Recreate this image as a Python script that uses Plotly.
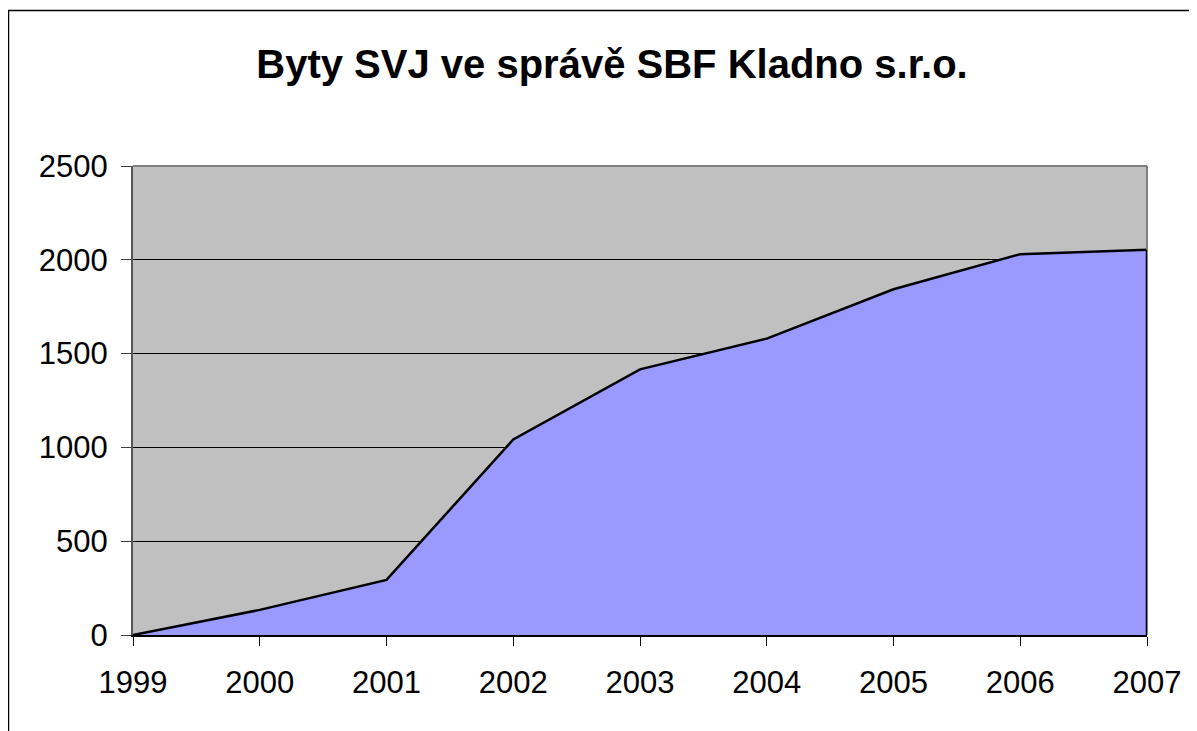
import plotly.graph_objects as go

years = [1999, 2000, 2001, 2002, 2003, 2004, 2005, 2006, 2007]
byty = [0, 134, 294, 1042, 1416, 1580, 1843, 2030, 2053]
y_ticks = [0, 500, 1000, 1500, 2000, 2500]
title_text = "Byty SVJ ve správě SBF Kladno s.r.o."

FONT = "Liberation Sans, Arial, sans-serif"

# page offset of the figure (body margin)
OFF = 8
PL, PR, PT, PB = 133, 1147, 166, 635  # plot area in page pixels
W, H = 1197, 731

fig = go.Figure()
fig.add_trace(go.Scatter(
    x=years, y=byty, mode="lines", fill="tozeroy",
    fillcolor="#9999FF", line=dict(color="black", width=2.5),
    hoverinfo="x+y", showlegend=False,
))

fig.update_layout(
    width=W, height=H,
    margin=dict(l=PL - OFF, r=W - (PR - OFF), t=PT - OFF, b=H - (PB - OFF)),
    paper_bgcolor="white", plot_bgcolor="#C0C0C0",
    title=dict(text="<b>" + title_text + "</b>", x=(612 - OFF) / W, xanchor="center",
               y=1 - (64 - OFF) / H, yanchor="middle",
               font=dict(family=FONT, size=40, color="black")),
    font=dict(family=FONT, size=31, color="black"),
    xaxis=dict(range=[years[0], years[-1]], tickmode="array", tickvals=years,
               ticktext=[str(y) for y in years], ticks="outside", ticklen=9,
               tickcolor="black", tickwidth=1, showgrid=False, zeroline=False,
               showline=True, linecolor="black", linewidth=2,
               ticklabelstandoff=10,
               tickfont=dict(family=FONT, size=31, color="black")),
    yaxis=dict(range=[0, 2500], tickmode="array", tickvals=y_ticks,
               ticks="outside", ticklen=10, tickcolor="#404040", tickwidth=1,
               showgrid=True, gridcolor="black", gridwidth=1, zeroline=False,
               showline=True, linecolor="#555555", linewidth=2,
               ticklabelstandoff=7,
               tickfont=dict(family=FONT, size=31, color="black")),
)

# plot area border (top/right), grey
fig.add_shape(type="line", xref="paper", yref="paper", x0=0, x1=1, y0=1, y1=1,
              line=dict(color="#808080", width=2))
fig.add_shape(type="line", xref="paper", yref="paper", x0=1, x1=1, y0=0, y1=1,
              line=dict(color="#808080", width=2))
# right edge of area
fig.add_shape(type="line", xref="x", yref="y", x0=years[-1], x1=years[-1],
              y0=0, y1=byty[-1], line=dict(color="black", width=2.5))
# chart frame
pw, ph = PR - PL, PB - PT
fig.add_shape(type="rect", xref="paper", yref="paper",
              x0=(8.5 - PL) / pw, x1=(1210 - PL) / pw,
              y0=(PB - 745) / ph, y1=(PB - 10.5) / ph,
              line=dict(color="black", width=1.5), layer="below")

fig.write_html("out.html")
